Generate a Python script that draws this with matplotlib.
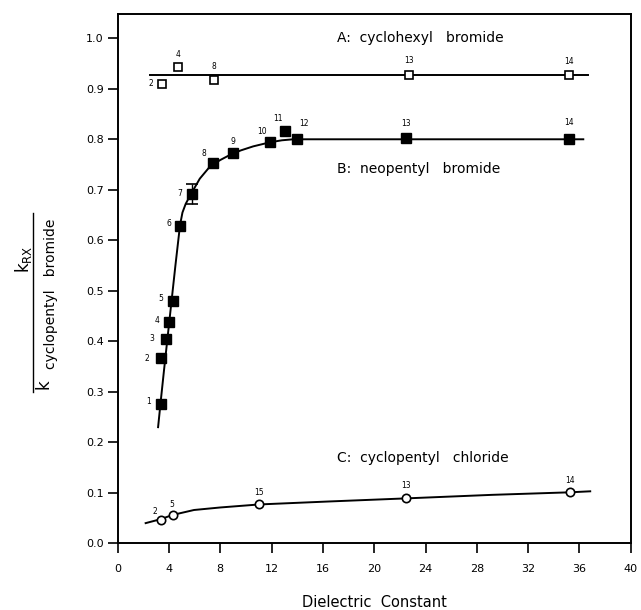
import matplotlib.pyplot as plt
from matplotlib.lines import Line2D

# %%
# Data
# ~~~~~~~~~~~~~~~~~~~~~~~~

# A: cyclohexyl bromide (open squares)
a_x = [3.43, 4.68, 7.53, 22.7, 35.2]
a_y = [0.910, 0.944, 0.918, 0.928, 0.928]
a_labels = ["2", "4", "8", "13", "14"]
a_fit_x = [2.5, 36.7]
a_fit_y = [0.927, 0.927]

# B: neopentyl bromide (filled squares)
b_x = [3.35, 3.40, 3.79, 4.00, 4.31, 4.86, 5.77, 7.45, 9.01, 11.87, 13.04, 13.95, 22.47, 35.2]
b_y = [0.276, 0.366, 0.405, 0.438, 0.480, 0.629, 0.692, 0.754, 0.773, 0.795, 0.816, 0.800, 0.802, 0.800]
b_labels = ["1", "2", "3", "4", "5", "6", "7", "8", "9", "10", "11", "12", "13", "14"]
b_err_index = 6
b_err = 0.02
b_fit_x = [3.15, 3.35, 3.6, 3.9, 4.2, 4.5, 4.86, 5.05, 5.3, 5.55, 5.77, 6.4, 7.19,
           8.0, 8.75, 9.6, 10.57, 11.87, 12.8, 13.69, 36.3]
b_fit_y = [0.23, 0.28, 0.34, 0.41, 0.48, 0.55, 0.63, 0.655, 0.672, 0.684, 0.694, 0.722, 0.746,
           0.759, 0.769, 0.778, 0.786, 0.794, 0.798, 0.800, 0.800]

# C: cyclopentyl chloride (open circles)
c_x = [3.38, 4.28, 11.04, 22.5, 35.25]
c_y = [0.047, 0.057, 0.077, 0.089, 0.101]
c_labels = ["2", "5", "15", "13", "14"]
c_fit_x = [2.18, 3.38, 4.25, 5.95, 8.0, 11.04, 16.6, 22.5, 29.2, 35.25, 36.84]
c_fit_y = [0.040, 0.048, 0.056, 0.066, 0.071, 0.077, 0.083, 0.089, 0.096, 0.101, 0.103]

x_ticks = [0, 4, 8, 12, 16, 20, 24, 28, 32, 36, 40]
y_ticks = [0.0, 0.1, 0.2, 0.3, 0.4, 0.5, 0.6, 0.7, 0.8, 0.9, 1.0]
y_ticklabels = ["0.0", "0.1", "0.2", "0.3", "0.4", "0.5", "0.6", "0.7", "0.8", "0.9", "1.0"]

# label offsets (pixels) for the point numbers
a_off = [(-11, 0), (0, 12), (0, 13), (0, 14), (0, 13)]
b_off = [(-12, 2), (-14, 0), (-14, 0), (-12, 2), (-12, 2), (-11, 2), (-12, 0),
         (-9, 9), (0, 11), (-8, 10), (-7, 13), (7, 16), (0, 15), (0, 17)]
c_off = [(-6, 8), (-1, 10), (0, 12), (0, 13), (0, 12)]

# %%
# Plot
# ~~~~

plt.rcParams["font.family"] = "DejaVu Sans"
fig = plt.figure(figsize=(6.41, 6.10), dpi=100)
ax = fig.add_axes([0.1836, 0.1093, 0.8004, 0.8677])

lw = 1.4
ax.plot(a_fit_x, a_fit_y, color="black", lw=lw)
ax.plot(b_fit_x, b_fit_y, color="black", lw=lw)
ax.plot(c_fit_x, c_fit_y, color="black", lw=lw)

ax.plot(a_x, a_y, "s", ms=6, mfc="white", mec="black", mew=1.2)
ax.plot(b_x, b_y, "s", ms=7, mfc="black", mec="black")
ax.errorbar([b_x[b_err_index]], [b_y[b_err_index]], yerr=b_err, fmt="none",
            ecolor="black", elinewidth=1.0, capsize=4, capthick=1.2)
ax.plot(c_x, c_y, "o", ms=6, mfc="white", mec="black", mew=1.2)

for xs, ys, labs, offs in [(a_x, a_y, a_labels, a_off),
                           (b_x, b_y, b_labels, b_off),
                           (c_x, c_y, c_labels, c_off)]:
    for x, y, lab, (dx, dy) in zip(xs, ys, labs, offs):
        ax.annotate(lab, (x, y), xytext=(dx, dy), textcoords="offset pixels",
                    ha="center", va="center", fontsize=5.5)

ax.text(17.1, 1.0, "A:  cyclohexyl   bromide", ha="left", va="center", fontsize=10)
ax.text(17.1, 0.742, "B:  neopentyl   bromide", ha="left", va="center", fontsize=10)
ax.text(17.1, 0.168, "C:  cyclopentyl   chloride", ha="left", va="center", fontsize=10)

ax.set_xlim(0, 40)
ax.set_ylim(0, 1.048)
ax.set_xticks(x_ticks)
ax.set_yticks(y_ticks)
ax.set_yticklabels(y_ticklabels)
ax.tick_params(direction="out", length=7, width=1.2, labelsize=8)
ax.tick_params(axis="x", pad=8)
ax.tick_params(axis="y", pad=3)
for sp in ax.spines.values():
    sp.set_linewidth(1.4)

ax.set_xlabel("Dielectric  Constant", fontsize=10.5, labelpad=15)

# y label as a stacked fraction
fig.text(23 / 641, (610 - 259) / 610, r"$\mathregular{k_{RX}}$", rotation=90,
         ha="center", va="center", fontsize=12)
fig.text(44 / 641, (610 - 384) / 610, "k", rotation=90,
         ha="center", va="center", fontsize=12)
fig.text(51 / 641, (610 - 294) / 610, "cyclopentyl   bromide", rotation=90,
         ha="center", va="center", fontsize=10)
fig.add_artist(Line2D([33 / 641, 33 / 641], [(610 - 392) / 610, (610 - 213) / 610],
                      color="black", lw=1.0, transform=fig.transFigure))

fig.savefig("out.png", dpi=100)
